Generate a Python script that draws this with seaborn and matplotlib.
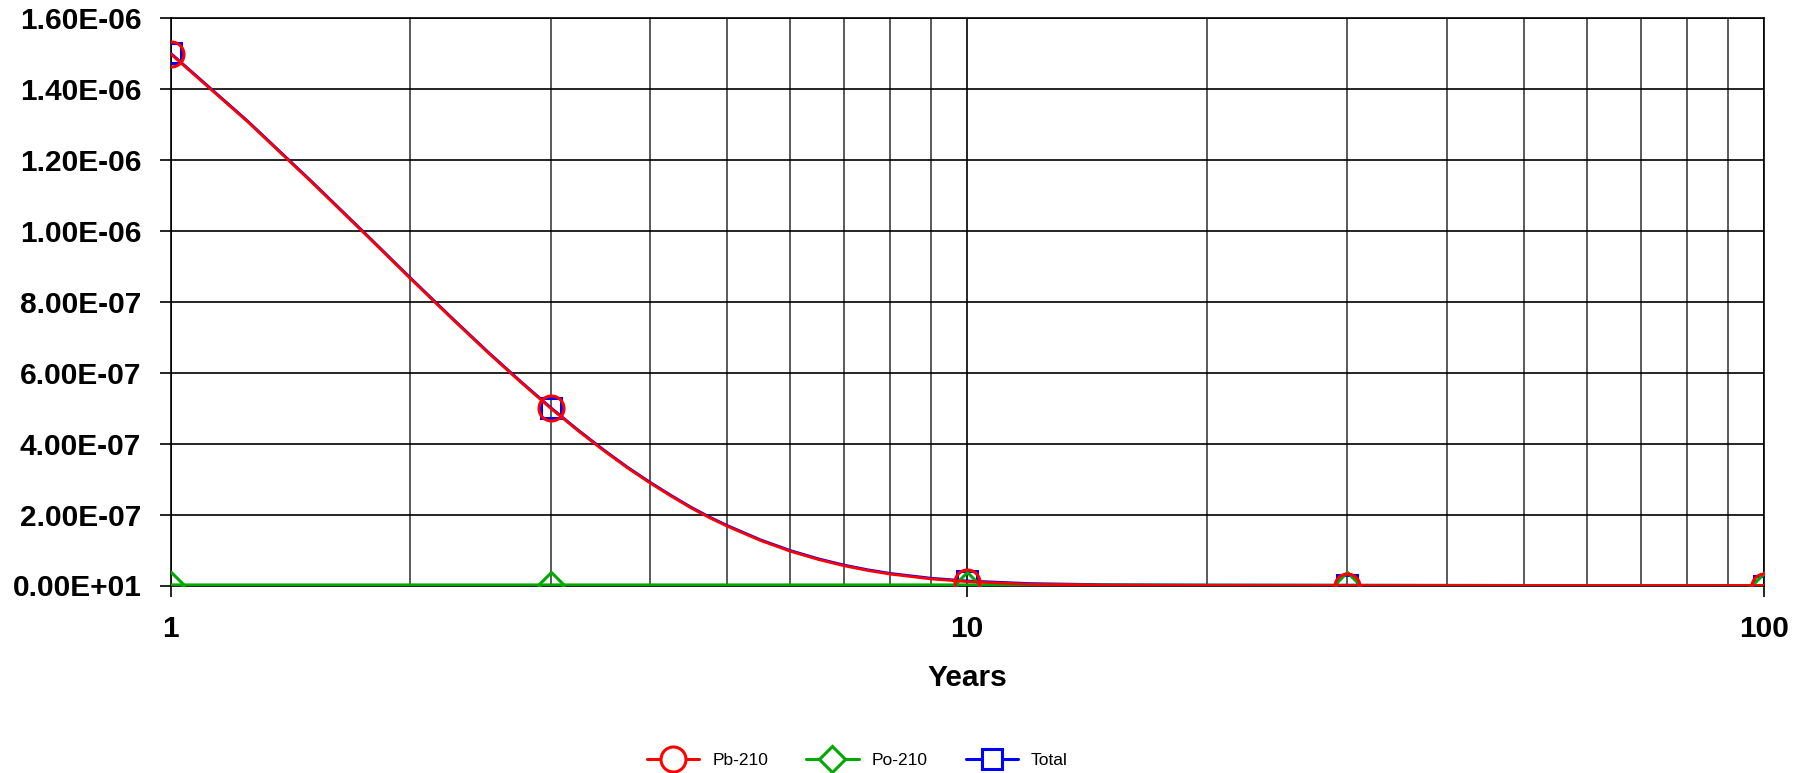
import numpy as np
import pandas as pd
import matplotlib
matplotlib.use("Agg")
import matplotlib.pyplot as plt
from matplotlib.lines import Line2D
from matplotlib.ticker import FixedLocator, NullFormatter
import seaborn as sns

# ---- data ----
# curve points (graphics points of the computed curve)
curve_years = [1, 1.25, 1.5, 1.75, 2, 2.25, 2.5, 2.75, 3, 3.25, 3.5, 3.75, 4, 4.25, 4.5,
               4.75, 5, 5.5, 6, 6.5, 7, 7.5, 8, 9, 10, 12, 15, 20, 30, 50, 100]
pb210_curve = [1.500e-6, 1.308e-6, 1.140e-6, 9.94e-7, 8.66e-7, 7.55e-7, 6.58e-7, 5.74e-7,
               5.00e-7, 4.36e-7, 3.80e-7, 3.31e-7, 2.89e-7, 2.52e-7, 2.19e-7, 1.91e-7,
               1.67e-7, 1.27e-7, 9.65e-8, 7.35e-8, 5.58e-8, 4.24e-8, 3.22e-8, 1.86e-8,
               1.08e-8, 3.6e-9, 7e-10, 5e-11, 0.0, 0.0, 0.0]
po210_curve = [2.0e-9] * 25 + [1.8e-9, 1.5e-9, 1.2e-9, 8e-10, 3e-10, 0.0]
total_curve = [a + b for a, b in zip(pb210_curve, po210_curve)]

# marker points
marker_years = [1, 3, 10, 30, 100]
pb210 = [1.50e-6, 5.0e-7, 1.08e-8, 0.0, 0.0]
po210 = [2e-9, 2e-9, 2e-9, 8e-10, 0.0]
total = [a + b for a, b in zip(pb210, po210)]

series_names = ["Pb-210", "Po-210", "Total"]
y_ticks = [0, 2e-7, 4e-7, 6e-7, 8e-7, 1.0e-6, 1.2e-6, 1.4e-6, 1.6e-6]
y_tick_labels = ["0.00E+01", "2.00E-07", "4.00E-07", "6.00E-07", "8.00E-07",
                 "1.00E-06", "1.20E-06", "1.40E-06", "1.60E-06"]
x_ticks = [1, 10, 100]
x_tick_labels = ["1", "10", "100"]
x_label = "Years"

sns.set_theme(style="white")
plt.rcParams["font.family"] = ["Liberation Sans", "DejaVu Sans"]
plt.rcParams["text.color"] = "black"
plt.rcParams["axes.labelcolor"] = "black"
plt.rcParams["xtick.color"] = "black"
plt.rcParams["ytick.color"] = "black"
plt.rcParams["lines.solid_joinstyle"] = "round"

fig = plt.figure(figsize=(18.11, 7.73), dpi=100)
ax = fig.add_axes([170.5 / 1811, 1 - 585.5 / 773, (1764 - 170.5) / 1811, (585.5 - 18.3) / 773])

styles = {
    "Pb-210": dict(color="#FF0000", marker="o", ms=18, z=5),
    "Po-210": dict(color="#00AA00", marker="D", ms=13.5, z=4),
    "Total": dict(color="#0000FF", marker="s", ms=14, z=3),
}
curves = {"Pb-210": pb210_curve, "Po-210": po210_curve, "Total": total_curve}
marks = {"Pb-210": pb210, "Po-210": po210, "Total": total}

for name in series_names:
    st = styles[name]
    df = pd.DataFrame({"x": curve_years, "y": curves[name]})
    sns.lineplot(data=df, x="x", y="y", ax=ax, color=st["color"], lw=2,
                 sort=False, estimator=None, zorder=st["z"])
    ax.plot(marker_years, marks[name], linestyle="none", marker=st["marker"], ms=st["ms"],
            mfc="none", mec=st["color"], mew=2.2, zorder=st["z"] + 0.5)

ax.set_xscale("log")
ax.set_xlim(1, 100)
ax.set_ylim(0, 1.6e-6)
ax.set_yticks(y_ticks)
ax.set_yticklabels(y_tick_labels)
ax.xaxis.set_major_locator(FixedLocator(x_ticks))
ax.set_xticklabels(x_tick_labels)
minor = [m * d for d in (1, 10) for m in range(2, 10)]
ax.xaxis.set_minor_locator(FixedLocator(minor))
ax.xaxis.set_minor_formatter(NullFormatter())

ax.set_axisbelow(True)
ax.grid(True, which="major", axis="y", color="black", lw=1.2)
ax.grid(True, which="major", axis="x", color="black", lw=1.2)
ax.grid(True, which="minor", axis="x", color="#5a5a5a", lw=1.4)

for sp in ax.spines.values():
    sp.set_color("black")
    sp.set_linewidth(1.2)

ax.tick_params(axis="y", which="major", direction="out", length=8, width=1.2,
               color="black", pad=13, labelsize=21.5, labelcolor="black")
ax.tick_params(axis="x", which="major", direction="out", length=8, width=1.2,
               color="black", pad=13.5, labelsize=21.5, labelcolor="black")
ax.tick_params(axis="x", which="minor", length=0)
ax.tick_params(left=True, bottom=True)
for lab in ax.get_xticklabels() + ax.get_yticklabels():
    lab.set_fontweight("bold")

ax.set_xlabel(x_label, fontsize=21.5, fontweight="bold", labelpad=15, color="black")
ax.set_ylabel("")

handles = [
    Line2D([], [], color=styles[n]["color"], lw=2.2, marker=styles[n]["marker"],
           ms=styles[n]["ms"], mfc="white", mec=styles[n]["color"], mew=2.2)
    for n in series_names
]
fig.legend(handles, series_names, loc="center", bbox_to_anchor=(0.4735, 0.0168),
           ncol=3, frameon=False, fontsize=12.5, handlelength=3.0,
           handletextpad=0.75, columnspacing=2.2, borderpad=0, labelcolor="black")

fig.savefig("out.png", dpi=100)
